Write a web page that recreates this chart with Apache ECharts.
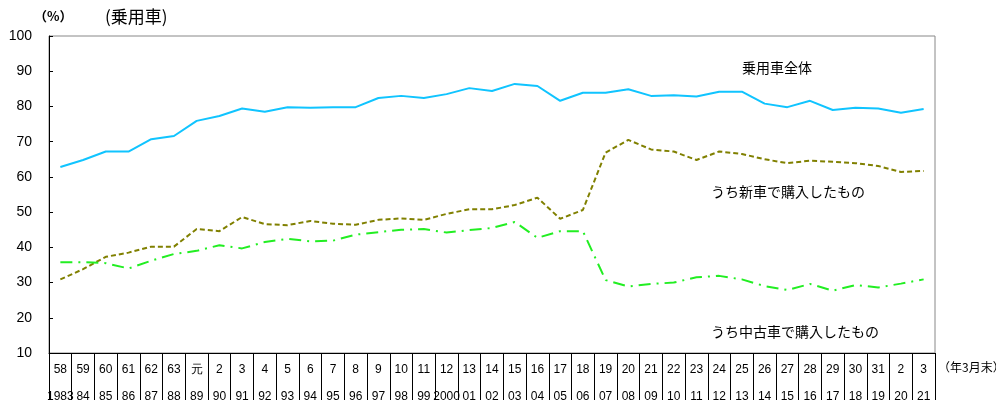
<!DOCTYPE html>
<html><head><meta charset="utf-8">
<script src="https://cdn.jsdelivr.net/npm/echarts@6/dist/echarts.min.js"></script>
<style>html,body{margin:0;padding:0;background:#fff}#c{width:996px;height:406px}</style>
</head><body><div id="c"></div>
<script>
const eraYears = ['58','59','60','61','62','63','元','2','3','4','5','6','7','8','9','10','11','12','13','14','15','16','17','18','19','20','21','22','23','24','25','26','27','28','29','30','31','2','3'];
const westYears = ['1983','84','85','86','87','88','89','90','91','92','93','94','95','96','97','98','99','2000','01','02','03','04','05','06','07','08','09','10','11','12','13','14','15','16','17','18','19','20','21'];
const allCars = [62.8,64.8,67.2,67.2,70.7,71.6,75.9,77.3,79.4,78.5,79.8,79.6,79.8,79.8,82.4,83.0,82.4,83.5,85.2,84.4,86.4,85.8,81.6,83.9,83.9,84.9,83.0,83.2,82.8,84.2,84.2,80.8,79.8,81.6,79.0,79.6,79.4,78.2,79.3];
const newCars = [30.9,33.8,37.3,38.5,40.2,40.2,45.2,44.6,48.6,46.6,46.3,47.5,46.7,46.4,47.8,48.2,47.8,49.5,50.8,50.8,52.0,54.1,48.1,50.6,66.9,70.5,67.8,67.2,64.8,67.2,66.5,65.0,63.9,64.6,64.3,63.9,63.1,61.4,61.7];
const usedCars = [35.8,35.8,35.5,34.0,36.2,38.1,39.0,40.6,39.7,41.5,42.4,41.7,41.9,43.6,44.3,45.0,45.2,44.2,44.9,45.5,47.2,42.7,44.6,44.6,30.7,28.9,29.6,30.0,31.5,31.9,30.9,29.0,27.9,29.6,27.7,29.3,28.6,29.7,30.9];
const yTicks = [10,20,30,40,50,60,70,80,90,100];
const seriesNames = ['乗用車全体','うち新車で購入したもの','うち中古車で購入したもの'];

const cats = eraYears.map((e,i)=>e+'\n'+westYears[i]);
const chart = echarts.init(document.getElementById('c'));
const font = '"Liberation Sans", Arial, sans-serif';
const jfont = '"Noto Sans CJK JP", sans-serif';
chart.setOption({
  animation:false,
  grid:{left:49,right:61,top:36,bottom:53,outerBoundsMode:'none',containLabel:false,show:true,borderColor:'#888',borderWidth:1,backgroundColor:'transparent'},
  xAxis:{type:'category',data:cats,boundaryGap:true,
    axisLine:{lineStyle:{color:'#000',width:1}},
    axisTick:{show:true,interval:0,length:47,lineStyle:{color:'#000'}},
    axisLabel:{interval:0,color:'#000',fontSize:12,fontFamily:font,lineHeight:27,margin:3}},
  yAxis:{type:'value',min:10,max:100,interval:10,
    axisLine:{show:true,lineStyle:{color:'#000',width:1}},
    axisTick:{show:true,inside:true,length:4,lineStyle:{color:'#000'}},
    splitLine:{show:false},
    axisLabel:{color:'#000',fontSize:14,fontFamily:font,margin:17,
      formatter:v=>yTicks.includes(v)?String(v):''}},
  series:[
    {name:seriesNames[0],type:'line',data:allCars,symbol:'none',lineStyle:{color:'#10C4FF',width:2}},
    {name:seriesNames[1],type:'line',data:newCars,symbol:'none',lineStyle:{color:'#808000',width:2,type:[5,3]}},
    {name:seriesNames[2],type:'line',data:usedCars,symbol:'none',lineStyle:{color:'#22EE22',width:2,type:[12,6,2,6]}}
  ],
  graphic:[
    {type:'text',left:34,top:10,style:{text:'（%）',fontSize:13,fontWeight:'bold',fontFamily:jfont,fill:'#000'}},
    {type:'text',left:105,top:8,style:{text:'(乗用車)',fontSize:17,fontFamily:jfont,fill:'#000'}},
    {type:'text',left:938,top:361,style:{text:'（年3月末）',fontSize:12,fontFamily:jfont,fill:'#000'}},
    {type:'text',left:742,top:61,style:{text:seriesNames[0],fontSize:14,fontFamily:jfont,fill:'#000'}},
    {type:'text',left:711,top:185,style:{text:seriesNames[1],fontSize:14,fontFamily:jfont,fill:'#000'}},
    {type:'text',left:711,top:325,style:{text:seriesNames[2],fontSize:14,fontFamily:jfont,fill:'#000'}}
  ]
});
</script></body></html>
